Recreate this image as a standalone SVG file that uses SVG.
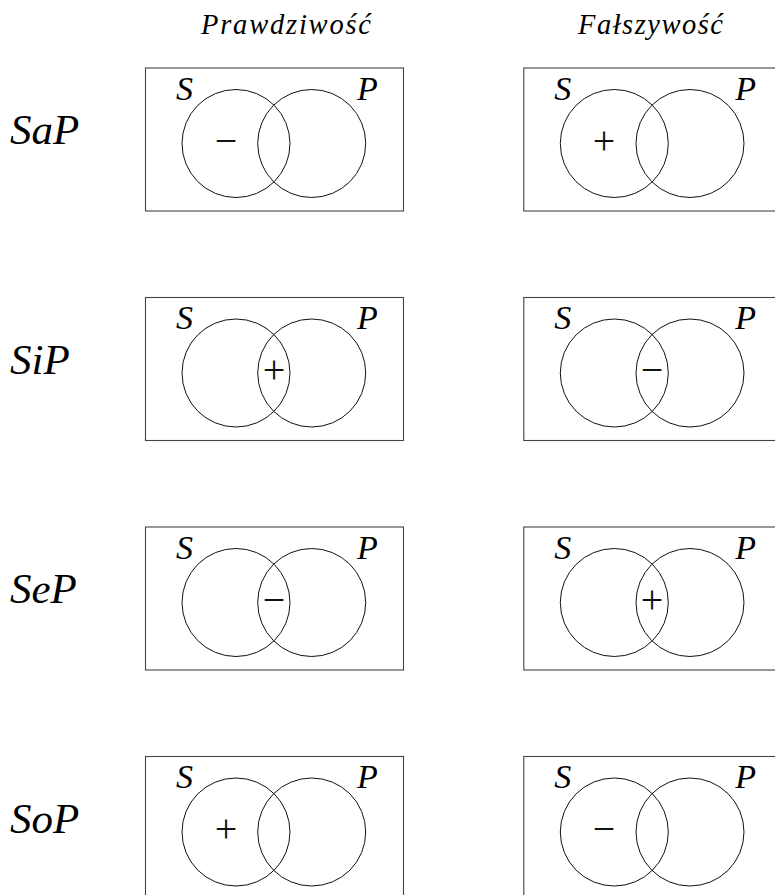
<svg xmlns="http://www.w3.org/2000/svg" width="775" height="895" viewBox="0 0 775 895">
<style>
  .box { fill: none; stroke: #444; stroke-width: 1.1; }
  .c { fill: none; stroke: #111; stroke-width: 1; }
  .t { font-family: "Liberation Serif", "DejaVu Serif", serif; font-style: italic; fill: #000; }
  .title { font-size: 28.5px; }
  .row { font-size: 43px; }
  .lab { font-size: 34px; }
  .sg { font-family: "Liberation Serif", "DejaVu Serif", serif; font-size: 40px; text-anchor: middle; fill: #111; }
</style>
<defs>
  <g id="venn">
    <rect class="box" x="0" y="0" width="258" height="143"/>
    <circle class="c" cx="90.5" cy="75.5" r="54"/>
    <circle class="c" cx="166.2" cy="75.5" r="54"/>
    <text class="t lab" x="30.5" y="31.5">S</text>
    <text class="t lab" x="211.5" y="31.5">P</text>
  </g>
</defs>
<rect x="0" y="0" width="775" height="895" fill="#fff"/>
<g id="headers">
  <text class="t title" x="201" y="34" textLength="170" lengthAdjust="spacing">Prawdziwość</text>
  <text class="t title" x="578" y="34" textLength="145" lengthAdjust="spacing">Fałszywość</text>
</g>
<g id="row-labels">
  <text class="t row" x="10" y="144">SaP</text>
  <text class="t row" x="10" y="373.5">SiP</text>
  <text class="t row" x="10" y="603">SeP</text>
  <text class="t row" x="10" y="832.5">SoP</text>
</g>
<g id="SaP-true">
  <use href="#venn" x="145.5" y="68"/>
  <text class="sg" x="226" y="153.5">−</text>
</g>
<g id="SaP-false">
  <use href="#venn" x="523.8" y="68"/>
  <text class="sg" x="604" y="153.5">+</text>
</g>
<g id="SiP-true">
  <use href="#venn" x="145.5" y="297.5"/>
  <text class="sg" x="274" y="383">+</text>
</g>
<g id="SiP-false">
  <use href="#venn" x="523.8" y="297.5"/>
  <text class="sg" x="652" y="383">−</text>
</g>
<g id="SeP-true">
  <use href="#venn" x="145.5" y="527"/>
  <text class="sg" x="274" y="612.5">−</text>
</g>
<g id="SeP-false">
  <use href="#venn" x="523.8" y="527"/>
  <text class="sg" x="652" y="612.5">+</text>
</g>
<g id="SoP-true">
  <use href="#venn" x="145.5" y="756.5"/>
  <text class="sg" x="226" y="842">+</text>
</g>
<g id="SoP-false">
  <use href="#venn" x="523.8" y="756.5"/>
  <text class="sg" x="604" y="842">−</text>
</g>
<g id="connectors"/>
</svg>
